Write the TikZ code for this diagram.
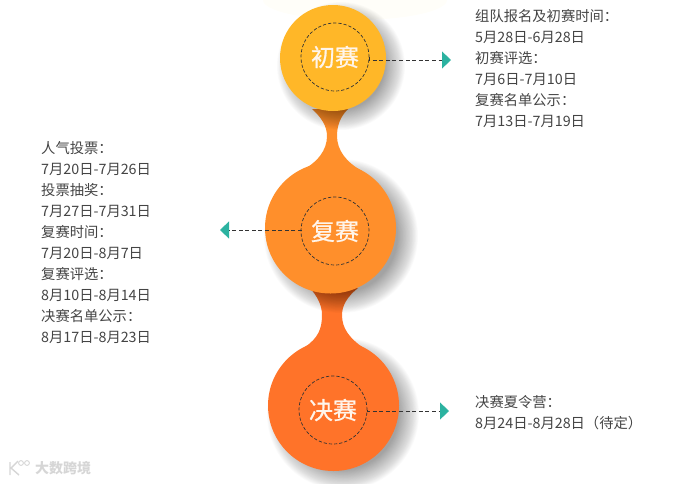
\documentclass[tikz,border=0pt]{standalone}
\usepackage{fontspec}
\setmainfont{Noto Sans CJK SC}
\newfontfamily\discfont[FakeBold=.7]{Noto Sans CJK SC}
\usetikzlibrary{arrows.meta}
\definecolor{yellowdisc}{HTML}{FFB728}
\definecolor{orangedisc}{HTML}{FF8F2B}
\definecolor{reddisc}{HTML}{FF7329}
\definecolor{tipteal}{HTML}{2BB2A0}
\definecolor{bodytext}{HTML}{444444}
\newcommand{\softshadow}[3]{%
  \foreach \i in {0,...,27}
    \fill[black, opacity=.016] (#1,#2) circle ({#3+11-\i*.75});
}

\begin{document}
\begin{tikzpicture}[
  x=1pt, y=-1pt,
  disc/.style={circle, inner sep=0pt, outer sep=0pt},
  ring/.style={circle, draw=black!80, dash pattern=on 3.2pt off 2pt, line width=.7pt,
    inner sep=0pt, outer sep=0pt, minimum size=68pt, text=white!92!orange,
    font=\fontsize{24}{24}\discfont},
  lead/.style={draw=black!80, dash pattern=on 4pt off 2.6pt, line width=.8pt,
    -{Triangle[length=9pt,width=17pt,color=tipteal]}},
  info/.style={anchor=north west, align=left, inner sep=0pt, text=bodytext,
    font=\fontsize{14.3}{21}\selectfont}
]
  \useasboundingbox (0,0) rectangle (695,483);
  \fill[yellow!60!orange!2] (355,0) ellipse (92 and 20);

  % bottom disc and its neck
  \softshadow{343}{414}{65}
  \fill[reddisc] (310,288) .. controls (317,296) and (322,305) .. (322,315)
    .. controls (322,329) and (318,338) .. (305,347) -- (362,347)
    .. controls (350,338) and (342,329) .. (342,315)
    .. controls (342,305) and (348,296) .. (358,288) -- cycle;
  \node[disc, fill=reddisc, minimum size=131pt] (juedisc) at (333.5,405.5) {};

  % middle disc and its neck
  \softshadow{341}{236}{66}
  \fill[orangedisc] (312,109) .. controls (321,117) and (327,126) .. (327,136)
    .. controls (327,150) and (318,162) .. (301,171) -- (362,171)
    .. controls (346,162) and (337,150) .. (337,136)
    .. controls (337,126) and (340,117) .. (348,109) -- cycle;
  \node[disc, fill=orangedisc, minimum size=131pt] (fudisc) at (330.5,228) {};

  % top disc
  \softshadow{341}{66}{53}
  \node[disc, fill=yellowdisc, minimum size=106pt] (chudisc) at (333,58) {};

  \node[ring] (chu) at (335,57) {初赛};
  \node[ring] (fu) at (335,231) {复赛};
  \node[ring] (jue) at (333,410) {决赛};

  \coordinate (chutip) at (451,60);
  \coordinate (futip) at (220,230);
  \coordinate (juetip) at (449,411);
  \draw[lead] (chu.east) |- (chutip);
  \draw[lead] (fu.west) |- (futip);
  \draw[lead] (jue.east) |- (juetip);

  \node[info] (chuinfo) at (475,9) {组队报名及初赛时间：\\5月28日-6月28日\\初赛评选：\\7月6日-7月10日\\复赛名单公示：\\7月13日-7月19日};
  \node[info] (fuinfo) at (41,141) {人气投票：\\7月20日-7月26日\\投票抽奖：\\7月27日-7月31日\\复赛时间：\\7月20日-8月7日\\复赛评选：\\8月10日-8月14日\\决赛名单公示：\\8月17日-8月23日};
  \node[info] (jueinfo) at (475,395) {决赛夏令营：\\8月24日-8月28日（待定）};

  % watermark
  \draw[black!16, line width=1.4pt] (10,462) -- (10,475) (18,461) -- (11,468) -- (19,475);
  \draw[black!16, line width=.9pt] (21,463) circle (2.4) (27,463) circle (2.4);
  \node[anchor=west, inner sep=0pt, text=black!16, font=\fontsize{14}{14}\bfseries\selectfont] (mark) at (35,468) {大数跨境};
\end{tikzpicture}
\end{document}
